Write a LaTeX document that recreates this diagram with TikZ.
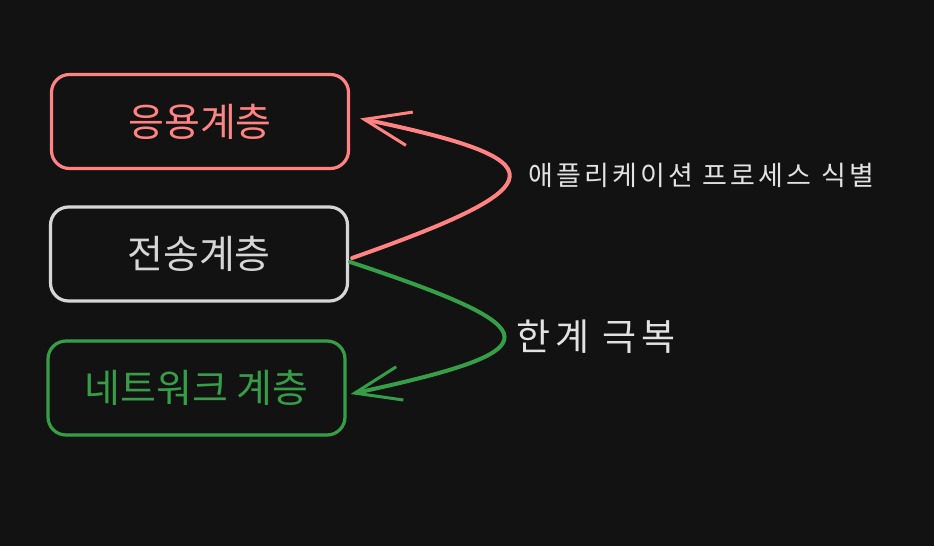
\documentclass[tikz,border=0pt]{standalone}
\usepackage{fontspec}
\setmainfont{Noto Sans CJK KR}
\newfontfamily\widekr[LetterSpace=12]{Noto Sans CJK KR}
\newfontfamily\midkr[LetterSpace=13]{Noto Sans CJK KR}
\usetikzlibrary{arrows.meta,calc}
\definecolor{bg}{HTML}{121212}
\definecolor{pinkred}{HTML}{FF8383}
\definecolor{lgray}{HTML}{D6D6D6}
\definecolor{grn}{HTML}{379E48}
\definecolor{txt}{HTML}{E2E2E2}
\tikzset{
  layerbox/.style={draw, line width=3.2pt, rounded corners=18pt, minimum width=297pt, minimum height=94pt, font=\fontsize{39}{44}\selectfont},
  conn/.style={line width=4pt, line cap=round, -{Straight Barb[length=46pt,width=34pt,line width=3pt]}},
  lbl/.style={anchor=west, text=txt, inner sep=0pt}
}
\begin{document}
\begin{tikzpicture}[x=1pt,y=-1pt]
\fill[bg] (0,0) rectangle (934,546);
\useasboundingbox (0,0) rectangle (934,546);
\node[layerbox, pinkred, text=pinkred] (app) at (200,121.5) {응용계층};
\node[layerbox, lgray, text=lgray] (tr) at (199,254) {전송계층};
\node[layerbox, grn, text=grn] (net) at (196.5,388) {네트워크 계층};
\coordinate (rs) at ($(tr.east)+(3,4)$);
\coordinate (rt) at ($(app.east)+(10,-3)$);
\coordinate (gs) at ($(tr.east)+(1,8)$);
\coordinate (gt) at ($(net.east)+(4,6)$);
\draw[conn, pinkred] (rs) .. controls (560,185) and (560,160) .. (rt);
\draw[conn, grn] (gs) .. controls (555,330) and (555,350) .. (gt);
\node[lbl, font=\widekr\fontsize{27}{32}\selectfont] (l1) at (528,175) {애플리케이션 프로세스 식별};
\node[lbl, font=\midkr\fontsize{37}{42}\selectfont] (l2) at (516,337) {한계 극복};
\end{tikzpicture}
\end{document}
